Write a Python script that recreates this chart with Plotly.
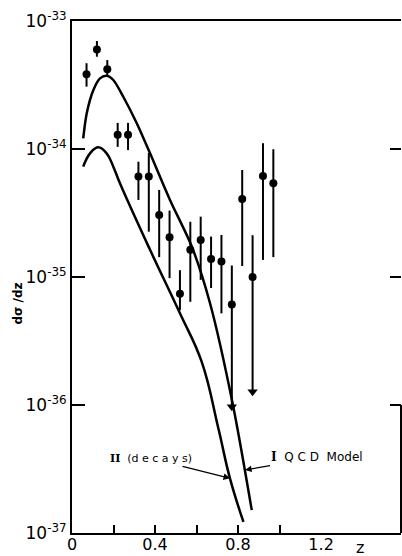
import plotly.graph_objects as go

# Measured cross section dσ/dz versus z
z_pts = [0.07, 0.12, 0.17, 0.22, 0.27, 0.32, 0.37, 0.42, 0.47, 0.52,
         0.57, 0.62, 0.67, 0.72, 0.77, 0.82, 0.87, 0.92, 0.97]
sigma = [3.84e-34, 6.0e-34, 4.2e-34, 1.29e-34, 1.29e-34, 6.1e-35, 6.1e-35, 3.05e-35, 2.04e-35, 7.4e-36,
         1.63e-35, 1.95e-35, 1.38e-35, 1.32e-35, 6.1e-36, 4.07e-35, 1.0e-35, 6.15e-35, 5.4e-35]
sigma_hi = [4.68e-34, 6.98e-34, 4.95e-34, 1.60e-34, 1.60e-34, 7.96e-35, 9.3e-35, 4.79e-35, 3.3e-35, 1.13e-35,
            2.7e-35, 2.96e-35, 2.07e-35, 2.13e-35, 1.23e-35, 6.85e-35, 2.12e-35, 1.11e-34, 9.95e-35]
sigma_lo = [3.07e-34, 5.26e-34, 3.78e-34, 1.04e-34, 9.8e-35, 4.0e-35, 2.26e-35, 1.43e-35, 9.8e-36, 5.5e-36,
            6.4e-36, 9.5e-36, 8.2e-36, 5.2e-36, 9.7e-37, 1.22e-35, 1.27e-36, 1.36e-35, 1.43e-35]
# points whose lower error reaches an upper-limit arrow
limit_idx = [14, 16]

# Model I: QCD model
qcd_z = [0.054, 0.071, 0.103, 0.135, 0.167, 0.199, 0.247, 0.312, 0.376, 0.472, 0.577, 0.665, 0.777, 0.866]
qcd_s = [1.21e-34, 1.90e-34, 2.89e-34, 3.56e-34, 3.74e-34, 3.46e-34, 2.56e-34, 1.59e-34, 9.25e-35, 4.0e-35,
         1.73e-35, 6.24e-36, 9.7e-37, 1.51e-37]
# Model II: decays
dec_z = [0.054, 0.087, 0.127, 0.167, 0.199, 0.231, 0.376, 0.520, 0.625, 0.705, 0.761, 0.826]
dec_s = [7.28e-35, 9.25e-35, 1.03e-34, 9.25e-35, 7.28e-35, 5.40e-35, 1.63e-35, 5.2e-36, 2.17e-36, 6.58e-37,
         2.67e-37, 1.22e-37]

y_tickvals = [1e-37, 1e-36, 1e-35, 1e-34, 1e-33]
y_ticktext = ["10<sup>-37</sup>", "10<sup>-36</sup>", "10<sup>-35</sup>", "10<sup>-34</sup>", "10<sup>-33</sup>"]
x_tickvals = [0.2, 0.4, 0.6, 0.8, 1.0]
x_labelvals = [0, 0.4, 0.8, 1.2]
x_labeltext = ["0", "0.4", "0.8", "1.2"]

FONT = "DejaVu Sans"

fig = go.Figure()

fig.add_trace(go.Scatter(
    x=qcd_z, y=qcd_s, mode="lines", line=dict(color="black", width=2.5, shape="spline", smoothing=0.8),
    hoverinfo="skip", showlegend=False))
fig.add_trace(go.Scatter(
    x=dec_z, y=dec_s, mode="lines", line=dict(color="black", width=2.5, shape="spline", smoothing=1.2),
    hoverinfo="skip", showlegend=False))

fig.add_trace(go.Scatter(
    x=z_pts, y=sigma, mode="markers",
    marker=dict(color="black", size=8, symbol="circle"),
    error_y=dict(type="data", symmetric=False,
                 array=[h - s for h, s in zip(sigma_hi, sigma)],
                 arrayminus=[s - l for s, l in zip(sigma, sigma_lo)],
                 color="black", thickness=2, width=0),
    showlegend=False))

fig.add_trace(go.Scatter(
    x=[z_pts[i] for i in limit_idx], y=[sigma_lo[i] for i in limit_idx], mode="markers",
    marker=dict(color="black", size=9, symbol="triangle-down"),
    showlegend=False, hoverinfo="skip"))

# right-hand tick marks
fig.add_trace(go.Scatter(x=[], y=[], yaxis="y2", showlegend=False, hoverinfo="skip"))
# bottom tick labels
fig.add_trace(go.Scatter(x=[], y=[], xaxis="x2", showlegend=False, hoverinfo="skip"))

fig.update_layout(
    width=402, height=556,
    margin=dict(l=72, r=1, t=21, b=23),
    paper_bgcolor="white", plot_bgcolor="white",
    font=dict(family=FONT, color="black"),
    xaxis=dict(range=[0, 1.585], showgrid=False, zeroline=False,
               showline=True, linecolor="black", linewidth=2, mirror=True,
               ticks="inside", ticklen=8, tickwidth=1.5, tickcolor="black",
               tickvals=x_tickvals, showticklabels=False),
    xaxis2=dict(range=[0, 1.585], overlaying="x", side="bottom", showgrid=False, zeroline=False,
                showline=False, ticks="", tickvals=x_labelvals, ticktext=x_labeltext,
                tickfont=dict(size=16, family=FONT)),
    yaxis=dict(type="log", range=[-37, -33], showgrid=False, zeroline=False,
               showline=True, linecolor="black", linewidth=2,
               ticks="inside", ticklen=13, tickwidth=2, tickcolor="black",
               tickvals=y_tickvals, ticktext=y_ticktext,
               tickfont=dict(size=17, family=FONT)),
    yaxis2=dict(type="log", range=[-37, -33], overlaying="y", side="right", showgrid=False,
                zeroline=False, showline=False, ticks="inside", ticklen=11, tickwidth=2,
                tickcolor="black", tickvals=y_tickvals, showticklabels=False),
)

# right frame edge along the lowest decade
fig.add_shape(type="line", xref="paper", yref="paper", x0=1, x1=1, y0=0, y1=0.25,
              line=dict(color="black", width=2))

fig.add_annotation(
    x=0.761, y=-36.573, xref="x", yref="y",
    text="<span style='font-family:DejaVu Serif'><b>II</b></span>  (d e c a y s)",
    showarrow=True, arrowhead=2, arrowsize=1, arrowwidth=1.3, arrowcolor="black",
    ax=-79, ay=-20, font=dict(size=11, family=FONT))
fig.add_annotation(
    x=0.834, y=-36.508, xref="x", yref="y",
    text="<span style='font-family:DejaVu Serif'><b>I</b></span>  Q C D  Model",
    showarrow=True, arrowhead=2, arrowsize=1, arrowwidth=1.3, arrowcolor="black",
    ax=72, ay=-13, font=dict(size=12, family=FONT))

fig.add_annotation(x=1.387, y=-0.029, xref="x", yref="paper", text="z", showarrow=False,
                   font=dict(size=16, family=FONT), yanchor="middle")
fig.add_annotation(x=-0.19, y=0.449, xref="paper", yref="paper", text="<b>dσ /dz</b>",
                   textangle=-90, showarrow=False, font=dict(size=12, family=FONT))

fig.write_html("out.html")
